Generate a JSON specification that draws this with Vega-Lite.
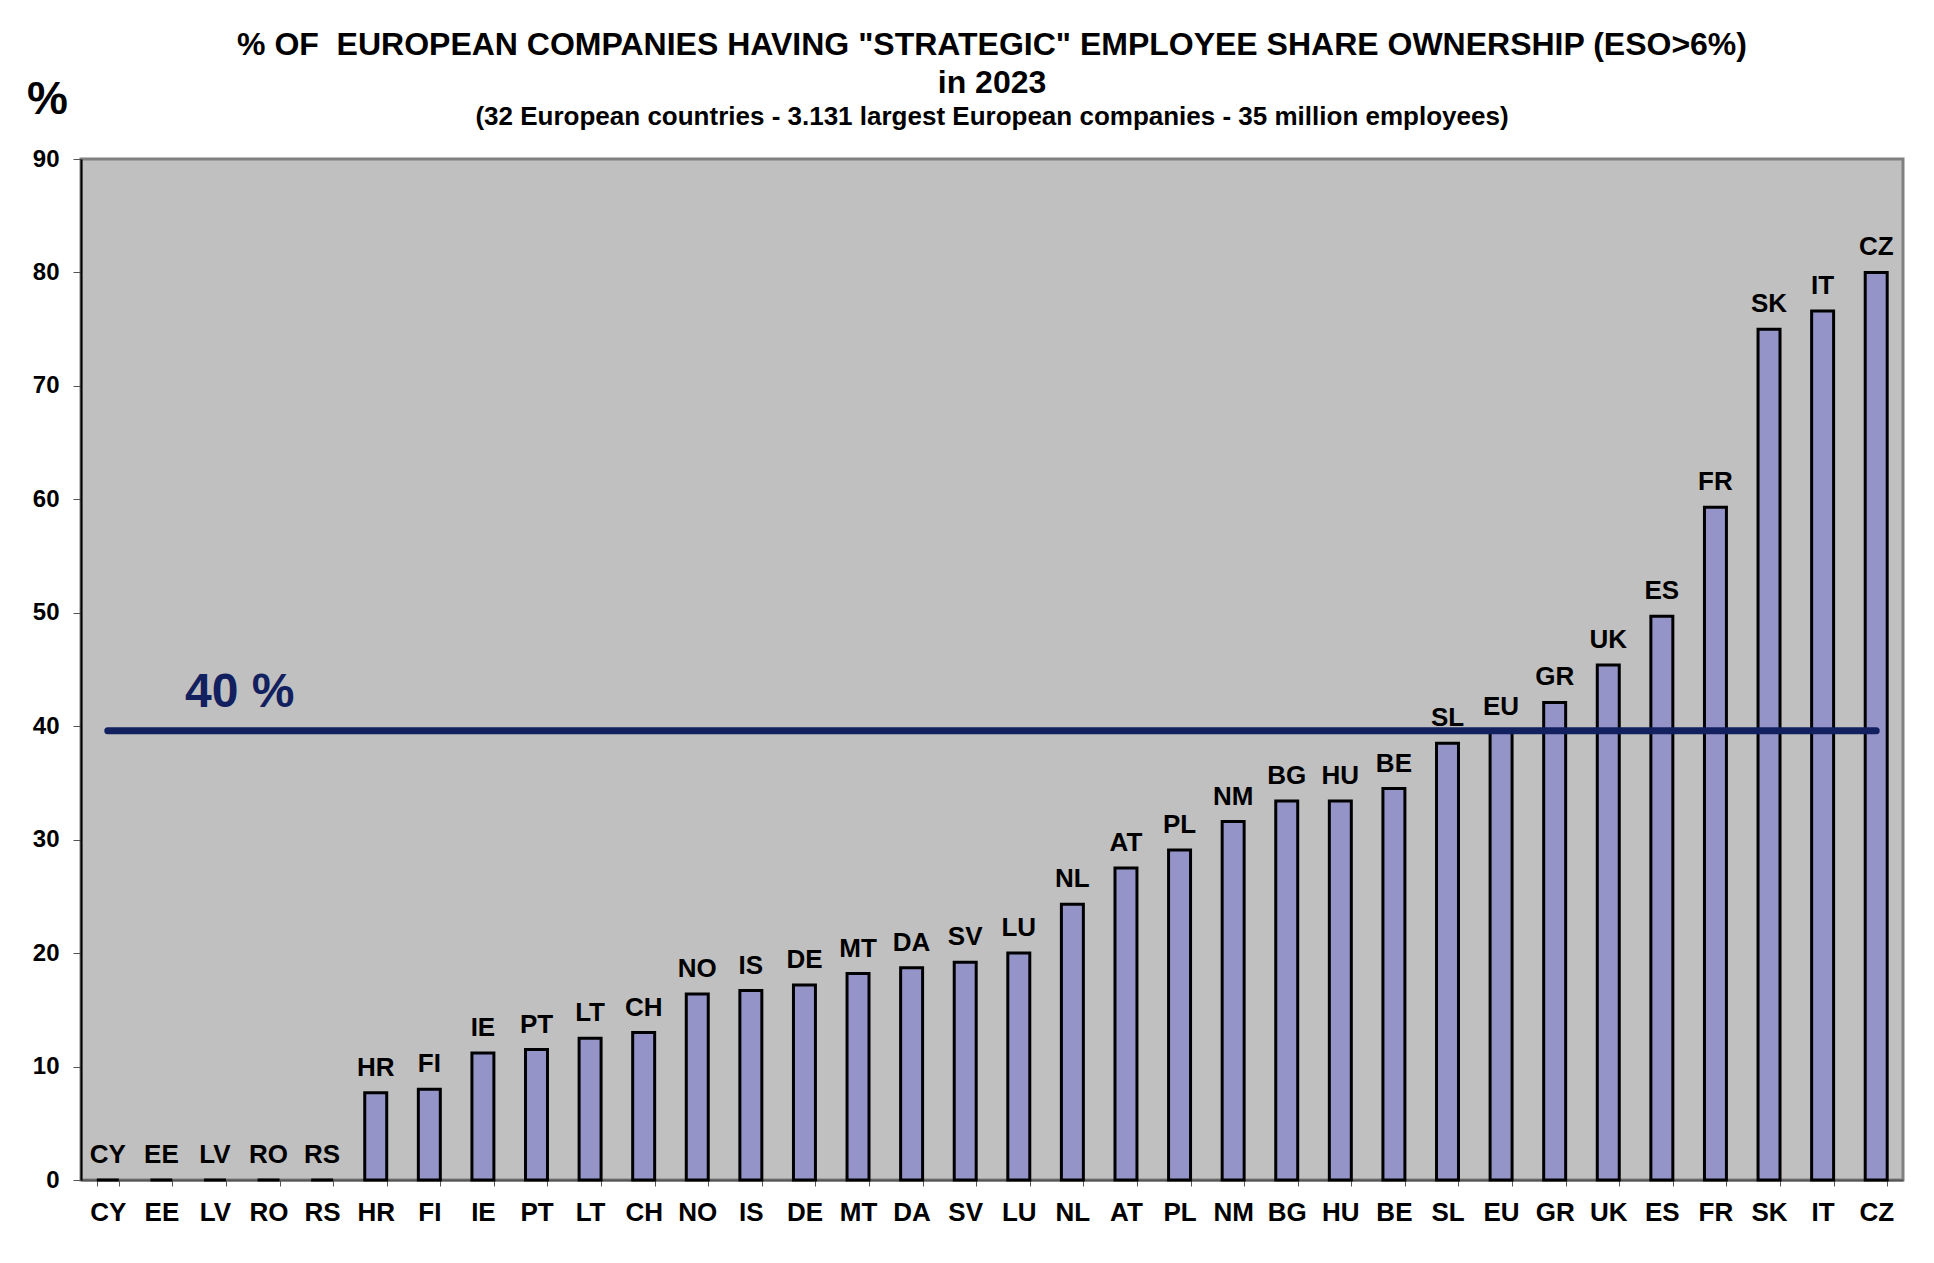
{
 "$schema": "https://vega.github.io/schema/vega-lite/v6.json",
 "width": 1822, "height": 1021,
 "autosize": {"type": "none"},
 "padding": {"left": 81, "top": 159, "right": 31, "bottom": 83},
 "background": "white",
 "config": {"font": "Liberation Sans", "view": {"fill": "#c0c0c0", "stroke": "#808080", "strokeWidth": 3}},
 "title": {
  "text": ["% OF\u00a0 EUROPEAN COMPANIES HAVING \"STRATEGIC\" EMPLOYEE SHARE OWNERSHIP (ESO>6%)", "in 2023"],
  "subtitle": "(32 European countries - 3.131 largest European companies - 35 million employees)",
  "fontSize": 32, "fontWeight": "bold", "lineHeight": 38, "color": "black",
  "subtitleFontSize": 26, "subtitleFontWeight": "bold", "subtitleColor": "black", "subtitlePadding": 4,
  "anchor": "middle", "frame": "group", "offset": -55
 },
 "data": {"values": [
  {"country": "CY", "value": 0}, {"country": "EE", "value": 0}, {"country": "LV", "value": 0},
  {"country": "RO", "value": 0}, {"country": "RS", "value": 0}, {"country": "HR", "value": 7.7},
  {"country": "FI", "value": 8.0}, {"country": "IE", "value": 11.2}, {"country": "PT", "value": 11.5},
  {"country": "LT", "value": 12.5}, {"country": "CH", "value": 13.0}, {"country": "NO", "value": 16.4},
  {"country": "IS", "value": 16.7}, {"country": "DE", "value": 17.2}, {"country": "MT", "value": 18.2},
  {"country": "DA", "value": 18.7}, {"country": "SV", "value": 19.2}, {"country": "LU", "value": 20.0},
  {"country": "NL", "value": 24.3}, {"country": "AT", "value": 27.5}, {"country": "PL", "value": 29.1},
  {"country": "NM", "value": 31.6}, {"country": "BG", "value": 33.4}, {"country": "HU", "value": 33.4},
  {"country": "BE", "value": 34.5}, {"country": "SL", "value": 38.5}, {"country": "EU", "value": 39.5},
  {"country": "GR", "value": 42.1}, {"country": "UK", "value": 45.4}, {"country": "ES", "value": 49.7},
  {"country": "FR", "value": 59.3}, {"country": "SK", "value": 75.0}, {"country": "IT", "value": 76.6},
  {"country": "CZ", "value": 80.0}
 ]},
 "layer": [
  {
   "mark": {"type": "bar", "fill": "#9494c9", "stroke": "black", "strokeWidth": 3},
   "encoding": {
    "x": {"field": "country", "type": "nominal", "sort": null,
     "scale": {"paddingInner": 0.59, "paddingOuter": 0.295},
     "axis": {"title": null, "labelAngle": 0, "labelFontSize": 26, "labelFontWeight": "bold", "labelColor": "black",
      "labelPadding": 13, "tickSize": 6, "tickColor": "#555555", "tickBand": "extent", "domainColor": "#555555", "domainWidth": 2}},
    "y": {"field": "value", "type": "quantitative", "scale": {"domain": [0, 90], "nice": false},
     "axis": {"title": "%", "titleAngle": 0, "titleFontSize": 46, "titleFontWeight": "bold", "titleColor": "black",
      "titleX": -34, "titleY": -60, "titleAlign": "center", "titleBaseline": "middle",
      "values": [0, 10, 20, 30, 40, 50, 60, 70, 80, 90],
      "labelFontSize": 24, "labelFontWeight": "bold", "labelColor": "black", "labelPadding": 14,
      "tickSize": 8, "tickColor": "#555555", "domainColor": "black", "domainWidth": 2, "grid": false}}
   }
  },
  {
   "mark": {"type": "text", "baseline": "bottom", "dy": -12, "fontSize": 26, "fontWeight": "bold", "color": "black"},
   "encoding": {
    "x": {"field": "country", "type": "nominal", "sort": null},
    "y": {"field": "value", "type": "quantitative"},
    "text": {"field": "country"}
   }
  },
  {
   "data": {"values": [{}]},
   "mark": {"type": "rule", "stroke": "#13205f", "strokeWidth": 7, "strokeCap": "round"},
   "encoding": {"x": {"datum": "CY"}, "x2": {"datum": "CZ"}, "y": {"datum": 39.6}}
  },
  {
   "data": {"values": [{}]},
   "mark": {"type": "text", "align": "left", "baseline": "middle", "fontSize": 48, "fontWeight": "bold", "color": "#13205f", "dx": -19},
   "encoding": {"x": {"datum": "LV", "bandPosition": 0}, "y": {"datum": 42.9}, "text": {"value": "40 %"}}
  }
 ]
}
